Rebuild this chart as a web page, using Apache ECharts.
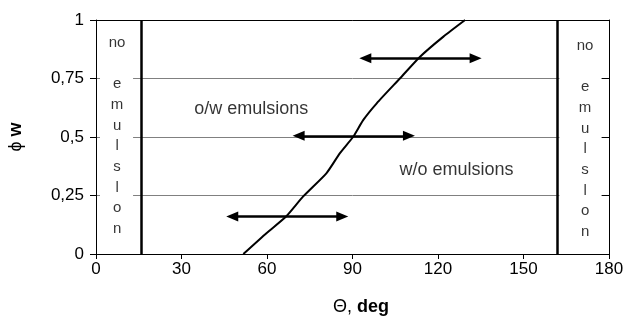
<!DOCTYPE html>
<html>
<head>
<meta charset="utf-8">
<script src="https://cdn.jsdelivr.net/npm/echarts@6/dist/echarts.min.js"></script>
<style>html,body{margin:0;padding:0;background:#fff}#c{width:626px;height:320px}</style>
</head>
<body>
<div id="c"></div>
<script>
// Data
const curveTheta = [51.7, 59.9, 66.7, 72.7, 80.9, 85.6, 90.3, 93.8, 98.5, 106.7, 113.7, 121.9, 129.5];
const curvePhi   = [0,    0.09, 0.16, 0.246,0.346,0.431,0.502,0.573,0.644,0.751, 0.843, 0.929, 1.0];
const arrowFrom  = [[47.8, 0.16], [71.1, 0.505], [94.5, 0.837]];
const arrowTo    = [[86.4, 0.16], [109.8, 0.505], [133.2, 0.837]];
const boundaries = [15.8, 161.8];
const xTicks = [0, 30, 60, 90, 120, 150, 180];
const yTicks = [0, 0.25, 0.5, 0.75, 1];
const regionLabels = ['o/w emulsions', 'w/o emulsions'];
const regionPos = [[54.5, 0.62], [126.5, 0.36]];
const sideText = 'no\n\ne\nm\nu\nl\ns\nl\no\nn';
const sidePos = [[7.4, 0.505], [171.6, 0.492]];

const FONT = 'Liberation Sans, Arial, sans-serif';
const chart = echarts.init(document.getElementById('c'), null, {renderer: 'canvas'});

const curveData = curveTheta.map((t, i) => [t, curvePhi[i]]);

chart.setOption({
  animation: false,
  backgroundColor: '#fff',
  grid: {left: 96, right: 17, top: 20, bottom: 66, containLabel: false, outerBoundsMode: 'none'},
  xAxis: [{
    type: 'value', min: xTicks[0], max: xTicks[xTicks.length-1], interval: 30,
    axisLine: {lineStyle: {color: '#000', width: 1}},
    axisTick: {show: true, length: 5, lineStyle: {color: '#000'}},
    axisLabel: {color: '#000', fontSize: 17, fontFamily: FONT, margin: 7},
    splitLine: {show: false},
    name: '{a|Θ, }{b|deg}', nameLocation: 'middle', nameGap: 44,
    nameTextStyle: {padding: [0, 0, 0, 17], rich: {
      a: {fontSize: 18, fontFamily: FONT, color: '#000'},
      b: {fontSize: 18, fontFamily: FONT, fontWeight: 'bold', color: '#000'}
    }}
  }, {
    type: 'value', position: 'top', min: 0, max: 180,
    axisLine: {show: true, onZero: false, lineStyle: {color: '#000', width: 1}},
    axisTick: {show: false}, axisLabel: {show: false}, splitLine: {show: false}
  }],
  yAxis: [{
    type: 'value', min: yTicks[0], max: yTicks[yTicks.length-1], interval: 0.25,
    axisLine: {show: true, lineStyle: {color: '#000', width: 1}},
    axisTick: {show: true, length: 6, lineStyle: {color: '#000'}},
    axisLabel: {color: '#000', fontSize: 17, fontFamily: FONT, margin: 12,
      formatter: v => String(v).replace('.', ',')},
    splitLine: {show: true, lineStyle: {color: '#808080', width: 1}},
    name: '{a|ϕ }{b|w}', nameLocation: 'middle', nameGap: 71, nameRotate: 90,
    nameTextStyle: {rich: {
      a: {fontSize: 18, fontFamily: FONT, color: '#000'},
      b: {fontSize: 18, fontFamily: FONT, fontWeight: 'bold', color: '#000'}
    }}
  }, {
    type: 'value', position: 'right', min: 0, max: 1, interval: 0.25,
    axisLine: {show: true, onZero: false, lineStyle: {color: '#000', width: 1}},
    axisTick: {show: true, inside: true, length: 8, lineStyle: {color: '#000'}},
    axisLabel: {show: false}, splitLine: {show: false}
  }],
  series: [{
    type: 'line', data: curveData, smooth: 0.2, showSymbol: false,
    lineStyle: {color: '#000', width: 2},
    z: 5,
    markArea: {
      silent: true, itemStyle: {color: '#fff'},
      data: [
        [{coord: [1.4, 0.004]}, {coord: [13, 0.996]}],
        [{coord: [162.6, 0.004]}, {coord: [177.4, 0.996]}]
      ]
    },
    markLine: {
      silent: true, animation: false,
      symbol: ['none', 'none'],
      data: boundaries.map(b => ({xAxis: b,
        lineStyle: {color: '#000', width: 2.5, type: 'solid'}, label: {show: false}}))
        .concat(arrowFrom.map((f, i) => [
          {coord: f, symbol: 'triangle', symbolSize: [10, 12]},
          {coord: arrowTo[i], symbol: 'triangle', symbolSize: [10, 12]}
        ])),
      lineStyle: {color: '#000', width: 2.5, type: 'solid'},
      label: {show: false}
    }
  }, {
    type: 'scatter', symbolSize: 0, z: 6,
    data: regionLabels.map((t, i) => ({value: regionPos[i], name: t})),
    label: {show: true, position: 'inside', formatter: p => p.name,
      color: '#000', fontSize: 18, fontFamily: FONT}
  }, {
    type: 'scatter', symbolSize: 0, z: 6,
    data: sidePos.map(p => ({value: p})),
    label: {show: true, position: 'inside', formatter: sideText,
      color: '#000', fontSize: 15, lineHeight: 20.7, fontFamily: FONT, align: 'center'}
  }]
});
</script>
</body>
</html>
